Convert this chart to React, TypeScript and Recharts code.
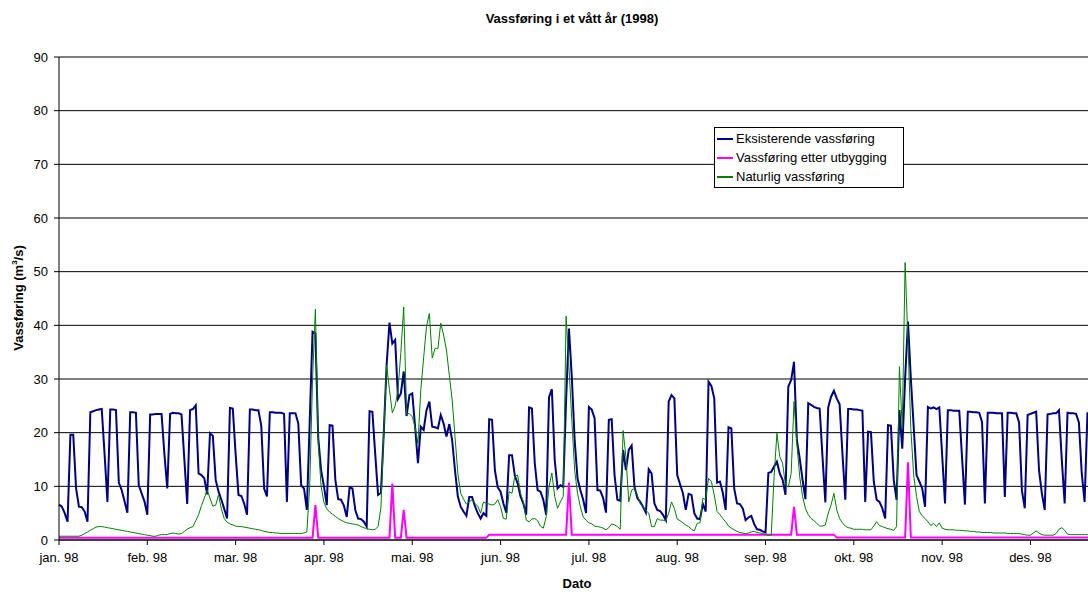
import React from 'react';
import { LineChart, Line, XAxis, YAxis, CartesianGrid, Legend } from 'recharts';

const FONT = '"Liberation Sans", Arial, sans-serif';

// x axis: one point per day of 1998, month ticks every 31 points (as in the original sheet)
const monthTicks = [0, 31, 62, 93, 124, 155, 186, 217, 248, 279, 310, 341];
const monthLabels = [
  'jan. 98', 'feb. 98', 'mar. 98', 'apr. 98', 'mai. 98', 'jun. 98',
  'jul. 98', 'aug. 98', 'sep. 98', 'okt. 98', 'nov. 98', 'des. 98',
];
const yTicks = [0, 10, 20, 30, 40, 50, 60, 70, 80, 90];
const seriesNames = ['Eksisterende vassføring', 'Vassføring etter utbygging', 'Naturlig vassføring'];
const seriesColors = ['#000080', '#ff00ff', '#008000'];

// Eksisterende vassføring (m3/s), daily
const eksisterende = [
  6.6, 6.2, 5.0, 3.4, 19.6, 19.6, 9.6, 6.2, 6.1, 5.3,
  3.4, 23.8, 24.0, 24.2, 24.3, 24.4, 16.0, 7.1, 24.3, 24.3,
  24.2, 10.7, 9.3, 7.2, 5.1, 23.8, 23.8, 23.7, 10.2, 8.7,
  7.2, 4.7, 23.4, 23.4, 23.5, 23.5, 23.5, 16.0, 9.6, 23.5,
  23.7, 23.6, 23.6, 23.4, 15.0, 6.7, 24.2, 24.4, 25.1, 12.4,
  12.1, 11.5, 8.5, 19.9, 19.4, 11.2, 9.0, 7.5, 5.8, 4.0,
  24.6, 24.5, 16.0, 8.4, 8.2, 6.8, 4.7, 24.3, 24.3, 24.2,
  24.2, 21.3, 9.6, 8.1, 23.8, 23.8, 23.7, 23.7, 23.7, 23.5,
  7.1, 23.6, 23.6, 23.6, 21.7, 10.2, 9.6, 5.6, 22.0, 38.8,
  38.5, 19.0, 13.0, 10.0, 6.5, 21.4, 21.3, 11.2, 7.6, 7.5,
  6.4, 4.3, 9.8, 9.6, 5.6, 4.0, 3.9, 3.4, 2.5, 24.0,
  23.9, 16.0, 8.4, 8.8, 20.0, 32.6, 40.5, 36.6, 37.3, 26.3,
  27.3, 31.4, 23.1, 27.0, 27.3, 21.1, 14.3, 21.1, 20.5, 24.2,
  25.8, 21.1, 21.0, 20.8, 23.3, 21.7, 19.3, 21.6, 18.6, 13.0,
  8.1, 6.2, 5.3, 4.5, 8.0, 8.0, 6.3, 5.0, 4.0, 5.0,
  4.5, 22.5, 22.4, 13.0, 9.8, 9.0, 6.8, 5.1, 15.8, 15.8,
  12.0, 10.5, 8.1, 6.8, 4.7, 24.7, 24.5, 14.3, 9.3, 9.0,
  7.5, 4.7, 26.6, 28.1, 14.9, 9.6, 10.2, 9.9, 26.1, 39.4,
  30.4, 18.6, 11.5, 9.3, 7.5, 5.0, 24.8, 24.3, 22.7, 9.3,
  9.2, 7.8, 5.1, 22.4, 22.5, 12.1, 7.5, 7.3, 16.8, 13.0,
  16.8, 17.6, 9.9, 7.8, 7.1, 6.2, 5.1, 13.2, 12.4, 6.8,
  5.6, 5.4, 4.7, 3.7, 25.8, 27.0, 26.4, 12.1, 10.4, 8.7,
  5.6, 8.6, 8.4, 5.0, 4.0, 3.9, 6.7, 5.3, 29.5, 28.7,
  26.4, 10.7, 10.9, 8.8, 5.6, 21.0, 20.8, 9.6, 6.8, 6.7,
  5.9, 3.7, 4.2, 4.5, 3.0, 2.0, 1.9, 1.6, 1.4, 12.5,
  12.7, 13.7, 14.6, 12.4, 11.2, 8.4, 28.6, 29.8, 33.2, 18.6,
  15.2, 11.2, 7.6, 25.5, 25.2, 24.8, 24.6, 24.5, 15.5, 7.0,
  24.7, 26.7, 27.8, 26.4, 25.3, 16.1, 7.5, 24.4, 24.4, 24.3,
  24.3, 24.2, 24.1, 7.1, 20.2, 20.1, 10.9, 7.5, 7.1, 5.9,
  4.0, 21.4, 21.3, 11.2, 7.5, 24.2, 17.0, 30.1, 40.7, 30.1,
  21.2, 12.1, 10.9, 9.6, 6.2, 24.8, 24.5, 24.7, 24.4, 24.7,
  15.8, 6.8, 24.2, 24.2, 24.1, 24.1, 24.1, 15.2, 6.6, 23.9,
  23.9, 23.8, 23.8, 23.7, 22.0, 6.8, 23.7, 23.7, 23.7, 23.6,
  23.6, 23.6, 8.0, 23.7, 23.7, 23.6, 23.6, 21.9, 9.2, 5.9,
  23.3, 23.5, 23.7, 23.9, 13.0, 8.7, 5.6, 23.4, 23.5, 23.6,
  23.6, 24.2, 14.9, 6.8, 23.7, 23.6, 23.6, 23.5, 21.9, 12.4,
  7.1, 23.6, 23.6, 23.5, 23.5,
];

// Vassføring etter utbygging (m3/s), daily
const etterUtbygging = [
  0.4, 0.4, 0.4, 0.4, 0.4, 0.4, 0.4, 0.4, 0.4, 0.4,
  0.4, 0.4, 0.4, 0.4, 0.4, 0.4, 0.4, 0.4, 0.4, 0.4,
  0.4, 0.4, 0.4, 0.4, 0.4, 0.4, 0.4, 0.4, 0.4, 0.4,
  0.4, 0.4, 0.4, 0.4, 0.4, 0.4, 0.4, 0.4, 0.4, 0.4,
  0.4, 0.4, 0.4, 0.4, 0.4, 0.4, 0.4, 0.4, 0.4, 0.4,
  0.4, 0.4, 0.4, 0.4, 0.4, 0.4, 0.4, 0.4, 0.4, 0.4,
  0.4, 0.4, 0.4, 0.4, 0.4, 0.4, 0.4, 0.4, 0.4, 0.4,
  0.4, 0.4, 0.4, 0.4, 0.4, 0.4, 0.4, 0.4, 0.4, 0.4,
  0.4, 0.4, 0.4, 0.4, 0.4, 0.4, 0.4, 0.4, 0.4, 0.4,
  6.5, 0.4, 0.4, 0.4, 0.4, 0.4, 0.4, 0.4, 0.4, 0.4,
  0.4, 0.4, 0.4, 0.4, 0.4, 0.4, 0.4, 0.4, 0.4, 0.4,
  0.4, 0.4, 0.4, 0.4, 0.4, 0.4, 0.4, 10.5, 0.4, 0.4,
  0.4, 5.6, 0.4, 0.4, 0.4, 0.4, 0.4, 0.4, 0.4, 0.4,
  0.4, 0.4, 0.4, 0.4, 0.4, 0.4, 0.4, 0.4, 0.4, 0.4,
  0.4, 0.4, 0.4, 0.4, 0.4, 0.4, 0.4, 0.4, 0.4, 0.4,
  0.4, 1.0, 1.0, 1.0, 1.0, 1.0, 1.0, 1.0, 1.0, 1.0,
  1.0, 1.0, 1.0, 1.0, 1.0, 1.0, 1.0, 1.0, 1.0, 1.0,
  1.0, 1.0, 1.0, 1.0, 1.0, 1.0, 1.0, 1.0, 1.0, 10.7,
  1.0, 1.0, 1.0, 1.0, 1.0, 1.0, 1.0, 1.0, 1.0, 1.0,
  1.0, 1.0, 1.0, 1.0, 1.0, 1.0, 1.0, 1.0, 1.0, 1.0,
  1.0, 1.0, 1.0, 1.0, 1.0, 1.0, 1.0, 1.0, 1.0, 1.0,
  1.0, 1.0, 1.0, 1.0, 1.0, 1.0, 1.0, 1.0, 1.0, 1.0,
  1.0, 1.0, 1.0, 1.0, 1.0, 1.0, 1.0, 1.0, 1.0, 1.0,
  1.0, 1.0, 1.0, 1.0, 1.0, 1.0, 1.0, 1.0, 1.0, 1.0,
  1.0, 1.0, 1.0, 1.0, 1.0, 1.0, 1.0, 1.0, 1.0, 1.0,
  1.0, 1.0, 1.0, 1.0, 1.0, 1.0, 1.0, 1.0, 6.2, 1.0,
  1.0, 1.0, 1.0, 1.0, 1.0, 1.0, 1.0, 1.0, 1.0, 1.0,
  1.0, 1.0, 1.0, 0.45, 0.45, 0.45, 0.45, 0.45, 0.45, 0.45,
  0.45, 0.45, 0.45, 0.45, 0.45, 0.45, 0.45, 0.45, 0.45, 0.45,
  0.45, 0.45, 0.45, 0.45, 0.45, 0.45, 0.45, 0.45, 14.5, 0.45,
  0.45, 0.45, 0.45, 0.45, 0.45, 0.45, 0.45, 0.45, 0.45, 0.45,
  0.45, 0.45, 0.45, 0.45, 0.45, 0.45, 0.45, 0.45, 0.45, 0.45,
  0.45, 0.45, 0.45, 0.45, 0.45, 0.45, 0.45, 0.45, 0.45, 0.45,
  0.45, 0.45, 0.45, 0.45, 0.45, 0.45, 0.45, 0.45, 0.45, 0.45,
  0.45, 0.45, 0.45, 0.45, 0.45, 0.45, 0.45, 0.45, 0.45, 0.45,
  0.45, 0.45, 0.45, 0.45, 0.45, 0.45, 0.45, 0.45, 0.45, 0.45,
  0.45, 0.45, 0.45, 0.45, 0.45,
];

// Naturlig vassføring (m3/s), daily
const naturlig = [
  0.7, 0.7, 0.7, 0.7, 0.7, 0.7, 0.7, 0.7, 0.9, 1.2,
  1.5, 1.8, 2.1, 2.4, 2.5, 2.5, 2.4, 2.3, 2.2, 2.1,
  2.0, 1.9, 1.8, 1.7, 1.6, 1.5, 1.4, 1.3, 1.2, 1.1,
  1.0, 0.9, 0.8, 0.7, 0.7, 0.9, 1.0, 1.0, 1.0, 1.2,
  1.3, 1.2, 1.1, 1.2, 1.6, 2.0, 2.3, 2.5, 3.6, 4.7,
  6.4, 7.8, 9.3, 7.8, 6.3, 6.5, 8.4, 5.8, 4.0, 3.3,
  3.0, 2.8, 2.6, 2.5, 2.5, 2.4, 2.3, 2.2, 2.1, 2.0,
  1.9, 1.8, 1.6, 1.5, 1.4, 1.4, 1.3, 1.3, 1.2, 1.2,
  1.2, 1.2, 1.2, 1.2, 1.2, 1.2, 1.3, 1.5, 10.0, 30.0,
  43.0, 18.0, 10.0, 7.0, 5.8, 5.2, 4.8, 4.4, 4.0, 3.7,
  3.4, 3.2, 3.1, 3.0, 2.9, 2.8, 2.5, 2.3, 2.1, 2.0,
  1.9, 2.0, 2.5, 6.0, 20.0, 32.6, 28.0, 23.7, 25.0, 28.0,
  35.0, 43.4, 23.6, 23.5, 23.0, 21.0, 18.0, 28.0, 34.0, 39.8,
  42.2, 33.9, 35.7, 35.7, 40.4, 38.2, 35.4, 30.7, 26.1, 19.3,
  12.4, 8.7, 7.6, 6.7, 7.1, 7.5, 6.8, 6.3, 5.0, 7.1,
  6.8, 6.7, 6.5, 6.7, 7.5, 6.2, 4.0, 3.9, 9.0, 8.7,
  11.9, 12.1, 8.7, 7.1, 3.7, 3.4, 3.9, 4.0, 3.6, 2.6,
  2.2, 4.3, 9.9, 12.5, 8.1, 5.9, 7.1, 8.1, 41.7, 32.3,
  22.4, 13.0, 8.7, 6.2, 4.3, 3.7, 3.2, 3.0, 2.6, 2.5,
  2.4, 2.2, 1.9, 2.3, 3.0, 2.8, 2.5, 2.0, 20.4, 15.5,
  7.1, 9.3, 9.6, 8.4, 6.8, 6.2, 5.5, 5.0, 2.5, 2.5,
  4.0, 3.7, 3.7, 3.6, 5.0, 7.1, 5.9, 3.9, 3.6, 3.2,
  2.8, 2.5, 2.0, 1.7, 3.1, 3.2, 7.8, 7.5, 11.5, 10.9,
  8.4, 5.3, 4.7, 4.0, 3.4, 2.6, 2.2, 1.9, 1.6, 1.4,
  1.3, 1.2, 1.3, 1.5, 1.6, 1.4, 1.3, 1.2, 1.0, 0.9,
  0.9, 11.8, 19.9, 15.5, 14.3, 10.2, 9.9, 12.4, 25.8, 18.0,
  11.8, 8.1, 5.9, 4.7, 4.0, 3.6, 3.1, 2.6, 2.6, 2.8,
  5.0, 6.5, 8.7, 5.6, 4.0, 3.2, 2.6, 2.3, 2.2, 2.0,
  2.0, 2.0, 2.0, 1.9, 1.9, 1.9, 2.6, 3.4, 2.7, 2.5,
  2.3, 2.1, 2.0, 1.8, 2.5, 32.3, 20.8, 51.7, 37.0, 20.8,
  12.1, 8.1, 5.3, 4.5, 4.0, 3.4, 2.7, 3.1, 2.5, 3.2,
  2.2, 2.0, 1.9, 1.9, 1.9, 1.8, 1.8, 1.8, 1.7, 1.7,
  1.6, 1.6, 1.5, 1.5, 1.4, 1.4, 1.4, 1.4, 1.3, 1.3,
  1.3, 1.3, 1.3, 1.2, 1.2, 1.2, 1.2, 1.2, 1.1, 1.0,
  0.9, 0.9, 1.3, 1.7, 1.3, 1.0, 0.9, 0.9, 0.9, 0.9,
  1.2, 2.0, 2.3, 1.8, 1.1, 1.0, 1.0, 1.0, 1.0, 1.0,
  1.0, 1.0, 1.0, 1.0, 1.0,
];

const data = eksisterende.map((v, i) => ({
  day: i,
  eksisterende: v,
  etter: etterUtbygging[i],
  naturlig: naturlig[i],
}));

// legend box drawn in the original series order with the series colours
function LegendBox() {
  return (
    <div
      style={{
        width: 186,
        border: '1px solid #000',
        background: '#fff',
        padding: '1px 0 1px 2px',
        fontFamily: FONT,
        fontSize: 13,
        color: '#000',
      }}
    >
      {seriesNames.map((name, i) => (
        <div key={name} style={{ display: 'flex', alignItems: 'center', height: 19 }}>
          <span
            style={{
              display: 'inline-block',
              width: 16,
              height: 2,
              background: seriesColors[i],
              marginRight: 3,
            }}
          />
          <span style={{ whiteSpace: 'nowrap' }}>{name}</span>
        </div>
      ))}
    </div>
  );
}

const tickStyle = { fontSize: 13, fill: '#000', fontFamily: FONT };

export default function App() {
  return (
    <div
      style={{
        position: 'absolute',
        left: 0,
        top: 0,
        width: 1088,
        height: 592,
        overflow: 'hidden',
        background: '#fff',
        fontFamily: FONT,
      }}
    >
      <div
        style={{
          position: 'absolute',
          left: 572,
          top: 18,
          transform: 'translate(-50%, -50%)',
          fontSize: 13,
          fontWeight: 'bold',
          whiteSpace: 'nowrap',
          zIndex: 2,
        }}
      >
        Vassføring i et vått år (1998)
      </div>
      <div
        style={{
          position: 'absolute',
          left: 18,
          top: 298,
          transform: 'translate(-50%, -50%) rotate(-90deg)',
          fontSize: 13,
          fontWeight: 'bold',
          whiteSpace: 'nowrap',
          zIndex: 2,
        }}
      >
        Vassføring (m<sup style={{ fontSize: 8 }}>3</sup>/s)
      </div>
      <div
        style={{
          position: 'absolute',
          left: 577,
          top: 583,
          transform: 'translate(-50%, -50%)',
          fontSize: 13,
          fontWeight: 'bold',
          zIndex: 2,
        }}
      >
        Dato
      </div>

      <LineChart
        width={1100}
        height={592}
        data={data}
        margin={{ top: 57, right: 4, bottom: 0, left: 0 }}
      >
        <CartesianGrid vertical={false} stroke="#000" strokeWidth={1} />
        <XAxis
          dataKey="day"
          type="number"
          domain={[0, 364]}
          ticks={monthTicks}
          interval={0}
          tickFormatter={(v: number) => monthLabels[monthTicks.indexOf(v)] ?? ''}
          tick={tickStyle}
          tickSize={5}
          tickMargin={8}
          height={52}
          axisLine={{ stroke: '#000' }}
          tickLine={{ stroke: '#000' }}
        />
        <YAxis
          type="number"
          domain={[0, 90]}
          ticks={yTicks}
          interval={0}
          tick={tickStyle}
          tickSize={5}
          tickMargin={6}
          width={59}
          axisLine={{ stroke: '#000' }}
          tickLine={{ stroke: '#000' }}
        />
        <Legend
          layout="vertical"
          align="center"
          verticalAlign="middle"
          content={<LegendBox />}
          wrapperStyle={{ position: 'absolute', left: 714, top: 127, width: 'auto' }}
        />
        <Line
          type="linear"
          dataKey="eksisterende"
          name={seriesNames[0]}
          stroke={seriesColors[0]}
          strokeWidth={2}
          dot={false}
          activeDot={false}
          isAnimationActive={false}
        />
        <Line
          type="linear"
          dataKey="etter"
          name={seriesNames[1]}
          stroke={seriesColors[1]}
          strokeWidth={2}
          dot={false}
          activeDot={false}
          isAnimationActive={false}
        />
        <Line
          type="linear"
          dataKey="naturlig"
          name={seriesNames[2]}
          stroke={seriesColors[2]}
          strokeWidth={1}
          dot={false}
          activeDot={false}
          isAnimationActive={false}
        />
      </LineChart>
    </div>
  );
}
